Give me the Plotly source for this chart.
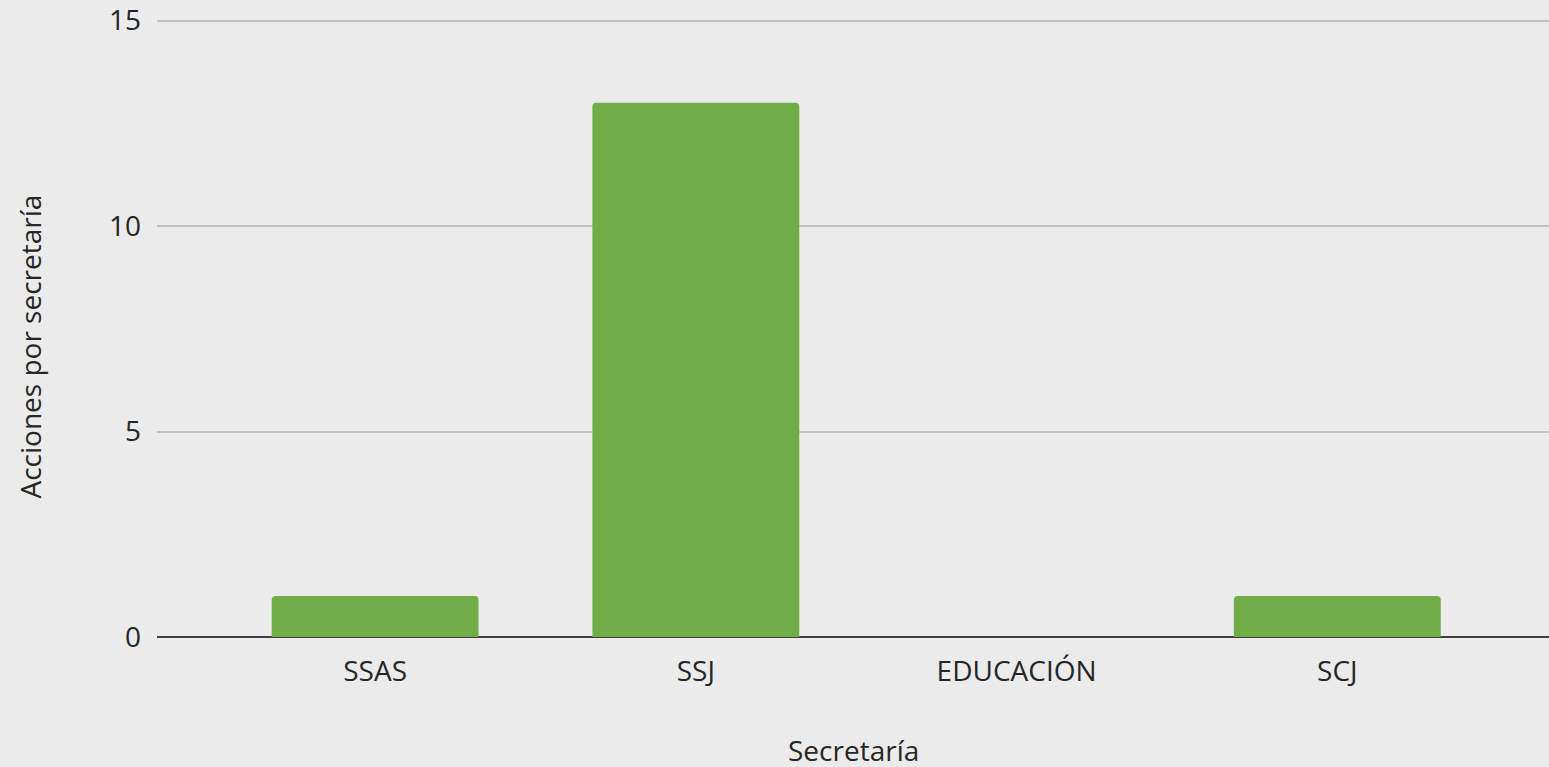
import plotly.graph_objects as go

categories = ["SSAS", "SSJ", "EDUCACIÓN", "SCJ"]
values = [1, 13, 0, 1]
y_ticks = [0, 5, 10, 15]

FONT = "Open Sans"
TXT = "#262626"
FS = 28

fig = go.Figure(go.Bar(
    x=list(range(len(categories))),
    y=values,
    width=0.645,
    marker=dict(color="#70ad47", line=dict(width=0)),
))

fig.update_layout(
    width=1549, height=767,
    margin=dict(l=157, r=0, t=17, b=130),
    paper_bgcolor="#ebebeb",
    plot_bgcolor="#ebebeb",
    barcornerradius=4,
    showlegend=False,
    font=dict(family=FONT, size=FS, color=TXT),
    xaxis=dict(
        range=[-0.68, 3.66],
        tickmode="array",
        tickvals=list(range(len(categories))),
        ticktext=categories,
        showgrid=False,
        zeroline=False,
        showline=False,
        ticks="",
        ticklabelstandoff=15,
        tickfont=dict(family=FONT, size=FS, color=TXT),
    ),
    yaxis=dict(
        range=[0, 15.04],
        tickmode="array",
        tickvals=y_ticks,
        showgrid=True,
        gridcolor="#c2c2c2",
        gridwidth=2,
        zeroline=True,
        zerolinecolor="#404040",
        zerolinewidth=2,
        showline=False,
        ticks="",
        ticklabelstandoff=15,
        ticklabeloverflow="allow",
        tickfont=dict(family=FONT, size=FS, color=TXT),
    ),
    annotations=[
        dict(text="Secretaría", xref="paper", yref="paper", x=0.5, y=0,
             yshift=-113, xanchor="center", yanchor="middle", showarrow=False,
             font=dict(family=FONT, size=FS, color=TXT)),
        dict(text="Acciones por secretaría", xref="paper", yref="paper",
             x=0, xshift=-127, y=0.47, textangle=-90, xanchor="center",
             yanchor="middle", showarrow=False,
             font=dict(family=FONT, size=FS, color=TXT)),
    ],
)

fig.write_html(
    "out.html",
    config={"displayModeBar": False},
    post_script="document.body.style.margin='0';document.body.style.background='#ebebeb';",
)
